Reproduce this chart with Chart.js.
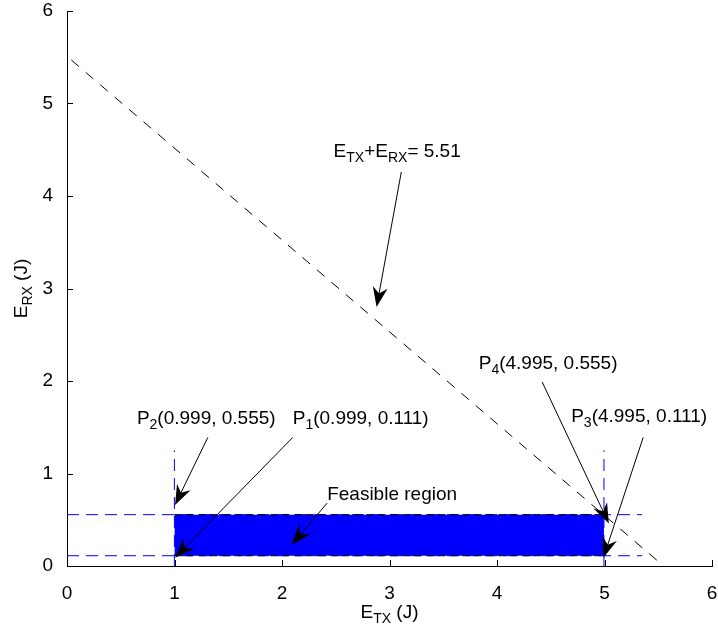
<!DOCTYPE html>
<html>
<head>
<meta charset="utf-8">
<script src="https://cdn.jsdelivr.net/npm/chart.js@4.4.0/dist/chart.umd.min.js"></script>
<style>
    html, body { margin: 0; padding: 0; background: #fff; }
</style>
</head>
<body>
<canvas id="energyChart" width="718" height="632"></canvas>
<script>
// Budget line E_TX + E_RX = 5.51
const frontierX = [0.04, 5.55];
const frontierY = [5.47, 0];

// Feasible region corners
const regionX = [0.999, 4.995];
const regionLow = [0.111, 0.111];
const regionHigh = [0.555, 0.555];

// Blue dashed guides
const guideHX = [0, 5.35];
const guideVY = [0, 1.25];

const tickValues = [0, 1, 2, 3, 4, 5, 6];

// Annotation texts: [parts, label x, label y, arrow tail x, y, arrow tip x, y] in data units
const notes = [
    [[['E'], ['TX', 1], ['+E'], ['RX', 1], ['= 5.51']], 2.48, 4.50, 3.11, 4.26, 2.88, 2.80],
    [[['P'], ['2', 1], ['(0.999, 0.555)']], 0.65, 1.61, 1.31, 1.39, 1.005, 0.66],
    [[['P'], ['1', 1], ['(0.999, 0.111)']], 2.10, 1.61, 2.10, 1.39, 1.005, 0.09],
    [[['Feasible region']], 2.42, 0.79, 2.42, 0.68, 2.09, 0.23],
    [[['P'], ['4', 1], ['(4.995, 0.555)']], 3.83, 2.21, 4.42, 1.99, 5.04, 0.46],
    [[['P'], ['3', 1], ['(4.995, 0.111)']], 4.69, 1.63, 5.36, 1.39, 4.99, 0.09]
];

const FONT = '"Liberation Sans", Arial, sans-serif';
const BIG = 19, SMALL = 14;

function pts(xs, ys) {
    return xs.map(function(x, i) { return { x: x, y: ys[i] }; });
}

function richWidth(ctx, parts) {
    let w = 0;
    parts.forEach(function(p) {
        ctx.font = (p[1] ? SMALL : BIG) + 'px ' + FONT;
        w += ctx.measureText(p[0]).width;
    });
    return w;
}

function drawRich(ctx, parts, x, baseline) {
    let cx = x;
    parts.forEach(function(p) {
        ctx.font = (p[1] ? SMALL : BIG) + 'px ' + FONT;
        ctx.fillText(p[0], cx, baseline + (p[1] ? 5 : 0));
        cx += ctx.measureText(p[0]).width;
    });
}

function drawArrow(ctx, x0, y0, x1, y1) {
    const dx = x1 - x0, dy = y1 - y0;
    const len = Math.sqrt(dx * dx + dy * dy);
    const ux = dx / len, uy = dy / len;
    const nx = -uy, ny = ux;
    const L = 20, W = 7.5;
    ctx.beginPath();
    ctx.moveTo(x0, y0);
    ctx.lineTo(x1 - ux * L * 0.6, y1 - uy * L * 0.6);
    ctx.stroke();
    ctx.beginPath();
    ctx.moveTo(x1, y1);
    ctx.lineTo(x1 - ux * L + nx * W, y1 - uy * L + ny * W);
    ctx.lineTo(x1 - ux * L * 0.68, y1 - uy * L * 0.68);
    ctx.lineTo(x1 - ux * L - nx * W, y1 - uy * L - ny * W);
    ctx.closePath();
    ctx.fill();
}

const extrasPlugin = {
    id: 'extras',
    afterDraw: function(chart) {
        const ctx = chart.ctx;
        const xs = chart.scales.x, ys = chart.scales.y;
        const area = chart.chartArea;
        ctx.save();
        ctx.strokeStyle = '#000';
        ctx.fillStyle = '#000';
        ctx.lineWidth = 1;

        // inward tick marks
        tickValues.forEach(function(v) {
            const px = Math.round(xs.getPixelForValue(v)) + 0.5;
            ctx.beginPath();
            ctx.moveTo(px, area.bottom);
            ctx.lineTo(px, area.bottom - 6);
            ctx.stroke();
            const py = Math.round(ys.getPixelForValue(v)) + 0.5;
            ctx.beginPath();
            ctx.moveTo(area.left, py);
            ctx.lineTo(area.left + 6, py);
            ctx.stroke();
        });

        // annotations
        ctx.textBaseline = 'alphabetic';
        ctx.textAlign = 'left';
        notes.forEach(function(n) {
            drawRich(ctx, n[0], xs.getPixelForValue(n[1]), ys.getPixelForValue(n[2]) + 7);
            drawArrow(ctx,
                xs.getPixelForValue(n[3]), ys.getPixelForValue(n[4]),
                xs.getPixelForValue(n[5]), ys.getPixelForValue(n[6]));
        });

        // axis titles
        const xTitle = [['E'], ['TX', 1], [' (J)']];
        const cx = (area.left + area.right) / 2;
        drawRich(ctx, xTitle, cx - richWidth(ctx, xTitle) / 2, 618);

        const yTitle = [['E'], ['RX', 1], [' (J)']];
        const cy = (area.top + area.bottom) / 2;
        ctx.translate(27, cy);
        ctx.rotate(-Math.PI / 2);
        drawRich(ctx, yTitle, -richWidth(ctx, yTitle) / 2, 0);
        ctx.restore();
    }
};

function lineSet(data, color, dash, extra) {
    return Object.assign({
        data: data,
        showLine: true,
        borderColor: color,
        borderWidth: 1,
        borderDash: dash,
        pointRadius: 0,
        fill: false
    }, extra || {});
}

function noOverflow(scale) {
    scale.paddingTop = 0;
    scale.paddingBottom = 0;
    scale.paddingLeft = 0;
    scale.paddingRight = 0;
}

const ctx = document.getElementById('energyChart').getContext('2d');
new Chart(ctx, {
    type: 'scatter',
    data: {
        datasets: [
            lineSet(pts(regionX, regionHigh), '#000', [7, 5]),
            lineSet(pts(regionX, regionLow), '#000', [7, 5], { fill: '-1', backgroundColor: '#0000ff' }),
            lineSet(pts(frontierX, frontierY), '#000', [10, 9]),
            lineSet(pts(guideHX, regionHigh), '#0000ff', [12, 7]),
            lineSet(pts(guideHX, regionLow), '#0000ff', [12, 7]),
            lineSet(pts([regionX[0], regionX[0]], guideVY), '#0000ff', [12, 7]),
            lineSet(pts([regionX[1], regionX[1]], guideVY), '#0000ff', [12, 7])
        ]
    },
    options: {
        responsive: false,
        animation: false,
        events: [],
        layout: { padding: { top: 11, right: 6, left: 0, bottom: 0 } },
        plugins: {
            legend: { display: false },
            tooltip: { enabled: false }
        },
        scales: {
            x: {
                type: 'linear',
                min: 0,
                max: 6,
                afterFit: function(scale) { scale.height = 66; noOverflow(scale); },
                ticks: { stepSize: 1, color: '#000', padding: 8, font: { family: FONT, size: BIG } },
                grid: { display: false },
                border: { display: true, color: '#000', width: 1 }
            },
            y: {
                type: 'linear',
                min: 0,
                max: 6,
                afterFit: function(scale) { scale.width = 67; noOverflow(scale); },
                ticks: { stepSize: 1, color: '#000', padding: 6, font: { family: FONT, size: BIG } },
                grid: { display: false },
                border: { display: true, color: '#000', width: 1 }
            }
        }
    },
    plugins: [extrasPlugin]
});
</script>
</body>
</html>
